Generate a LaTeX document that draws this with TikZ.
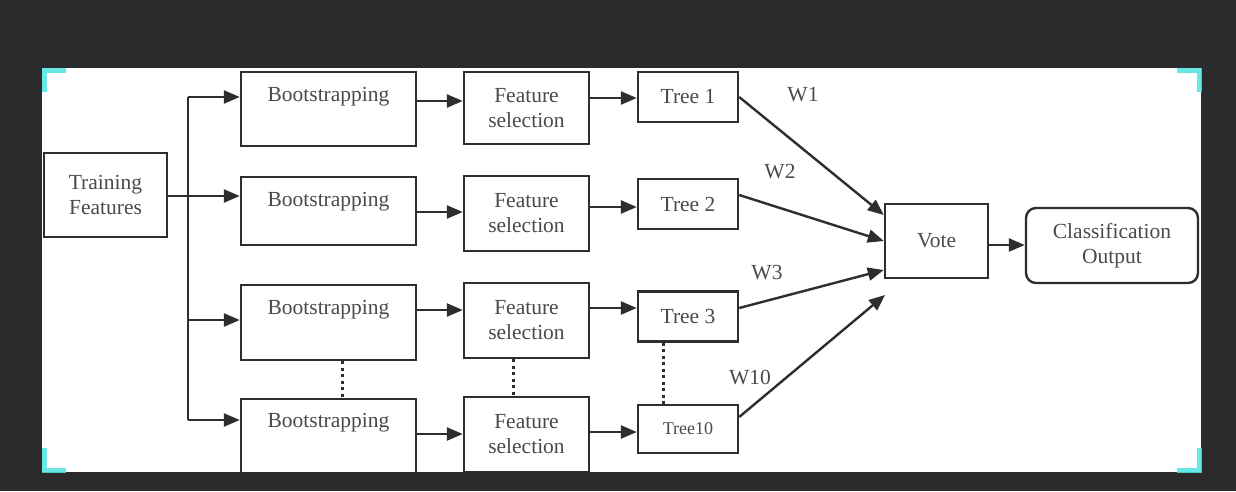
\documentclass[tikz,border=0pt]{standalone}
\usepackage{fontspec}
\setmainfont{Liberation Serif}
\usetikzlibrary{arrows.meta,calc}
\definecolor{frame}{HTML}{2B2B2B}
\definecolor{ink}{HTML}{2E2E2E}
\definecolor{txt}{HTML}{4A4A4A}
\definecolor{cornercyan}{HTML}{4FE3E3}
\begin{document}
\begin{tikzpicture}[x=1pt,y=-1pt,
  box/.style={draw=ink, line width=2.4pt, fill=white, inner sep=0pt, text=txt,
    font=\fontsize{21.5}{25}\selectfont, align=center},
  lbl/.style={text=txt, font=\fontsize{21.5}{25}\selectfont, inner sep=0pt},
  arr/.style={draw=ink, line width=2.4pt, -{Triangle[length=16pt,width=13pt]}},
  link/.style={draw=ink, line width=2.4pt},
  dots/.style={draw=ink, line width=3pt, dash pattern=on 3pt off 3.5pt}]

% dark surround and white sheet
\fill[frame] (0,0) rectangle (1236,491);
\fill[white] (42,68) rectangle (1201,472);
\useasboundingbox (0,0) rectangle (1236,491);

% input
\node[box, minimum width=123pt, minimum height=84pt] (tf) at (105.5,195) {Training\\Features};

% bootstrapping column
\node[box, minimum width=175pt, minimum height=74pt] (b1) at (328.5,109) {};
\node[box, minimum width=175pt, minimum height=68pt] (b2) at (328.5,211) {};
\node[box, minimum width=175pt, minimum height=75pt] (b3) at (328.5,322.5) {};
\node[box, minimum width=175pt, minimum height=80pt] (b4) at (328.5,439) {};
\node[lbl] (b1t) at (328.5,97) {Bootstrapping};
\node[lbl] (b2t) at (328.5,202) {Bootstrapping};
\node[lbl] (b3t) at (328.5,310) {Bootstrapping};
\node[lbl] (b4t) at (328.5,423) {Bootstrapping};

% feature selection column
\node[box, minimum width=125pt, minimum height=72pt] (f1) at (526.5,108) {Feature\\selection};
\node[box, minimum width=125pt, minimum height=75pt] (f2) at (526.5,213.5) {Feature\\selection};
\node[box, minimum width=125pt, minimum height=75pt] (f3) at (526.5,320.5) {Feature\\selection};
\node[box, minimum width=125pt, minimum height=75pt] (f4) at (526.5,434.5) {Feature\\selection};

% trees
\node[box, minimum width=100pt, minimum height=50pt] (t1) at (688,97) {Tree 1};
\node[box, minimum width=100pt, minimum height=50pt] (t2) at (688,204) {Tree 2};
\node[box, minimum width=100pt, minimum height=50pt] (t3) at (688,316.5) {Tree 3};
\node[box, minimum width=100pt, minimum height=48pt, font=\fontsize{18}{22}\selectfont] (t10) at (688,429) {Tree10};

% aggregation
\node[box, minimum width=103pt, minimum height=74pt] (vote) at (936.5,241) {Vote};
\node[box, minimum width=172pt, minimum height=75pt, rounded corners=10pt] (cls) at (1112,245.5) {Classification\\Output};

% fan-out from the input
\coordinate (j1) at (188,97);
\coordinate (j3) at (188,320);
\coordinate (j4) at (188,420);
\draw[link] (j1) -- (j4);
\draw[arr] (j1) -- (b1.west |- j1);
\draw[arr] (tf.east |- 0,196) -- (b2.west |- 0,196);
\draw[arr] (j3) -- (b3.west |- j3);
\draw[arr] (j4) -- (b4.west |- j4);

% bootstrapping -> feature selection
\draw[arr] (b1.east |- 0,101) -- (f1.west |- 0,101);
\draw[arr] (b2.east |- 0,212) -- (f2.west |- 0,212);
\draw[arr] (b3.east |- 0,310) -- (f3.west |- 0,310);
\draw[arr] (b4.east |- 0,434) -- (f4.west |- 0,434);

% feature selection -> trees
\draw[arr] (f1.east |- 0,98) -- (t1.west |- 0,98);
\draw[arr] (f2.east |- 0,207) -- (t2.west |- 0,207);
\draw[arr] (f3.east |- 0,308) -- (t3.west |- 0,308);
\draw[arr] (f4.east |- 0,432) -- (t10.west |- 0,432);

% elided rows
\draw[dots] (b3.south -| 342,0) -- (b4.north -| 342,0);
\draw[dots] (f3.south -| 513,0) -- (f4.north -| 513,0);
\draw[dots] (t3.south -| 663,0) -- (t10.north -| 663,0);

% weighted votes
\coordinate (v4) at (885,295);
\draw[arr] (t1.east) -- (vote.west |- 0,215);
\draw[arr] ($(t2.east)+(0,-9)$) -- (vote.west |- 0,241);
\draw[arr] ($(t3.east)+(0,-8.5)$) -- (vote.west |- 0,270);
\draw[arr] ($(t10.east)+(0,-12)$) -- (v4);
\node[lbl] (w1) at (803,95) {W1};
\node[lbl] (w2) at (780,172) {W2};
\node[lbl] (w3) at (767,273) {W3};
\node[lbl] (w10) at (750,378) {W10};

\draw[arr] (vote.east |- 0,245) -- (cls.west |- 0,245);

% bottom edge of the sheet covers the last row
\fill[frame] (0,472) rectangle (1236,491);

% corner marks
\begin{scope}[draw=cornercyan, line width=5pt, opacity=0.85]
\draw (44,92) -- (44,70) -- (66,70);
\draw (1177,70) -- (1199,70) -- (1199,92);
\draw (44,448) -- (44,470) -- (66,470);
\draw (1177,470) -- (1199,470) -- (1199,448);
\end{scope}
\end{tikzpicture}
\end{document}
